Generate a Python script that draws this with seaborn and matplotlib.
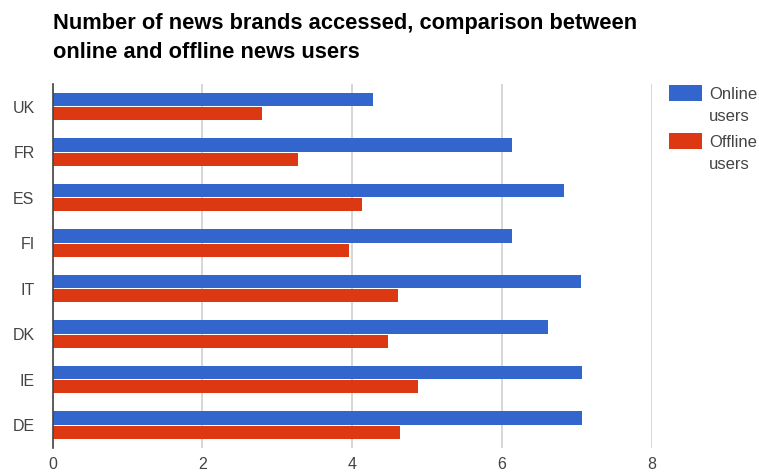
import matplotlib
matplotlib.use("Agg")
import matplotlib.pyplot as plt
from matplotlib.patches import Rectangle
import seaborn as sns
import pandas as pd

countries = ["UK", "FR", "ES", "FI", "IT", "DK", "IE", "DE"]
online_users = [4.28, 6.13, 6.83, 6.13, 7.05, 6.61, 7.07, 7.07]
offline_users = [2.80, 3.28, 4.13, 3.96, 4.61, 4.48, 4.88, 4.64]
series_names = ["Online\nusers", "Offline\nusers"]
series_colors = ["#3366CC", "#DC3912"]
x_ticks = [0, 2, 4, 6, 8]
title_lines = ["Number of news brands accessed, comparison between",
               "online and offline news users"]

df = pd.DataFrame({
    "country": countries * 2,
    "value": online_users + offline_users,
    "series": [series_names[0]] * len(countries) + [series_names[1]] * len(countries),
})

sns.set_style("white")
plt.rcParams["font.family"] = ["Liberation Sans", "DejaVu Sans"]

W, H = 759, 474
fig = plt.figure(figsize=(W / 100, H / 100), dpi=100)
ax = fig.add_axes([0.0694, 0.0549, 0.7893, 0.768])

palette = dict(zip(series_names, series_colors))
sns.barplot(data=df, y="country", x="value", hue="series", orient="h",
            order=countries, hue_order=series_names, palette=palette,
            width=0.62, gap=0.05, saturation=1, ax=ax, legend=False,
            edgecolor="none")

ax.set_xlim(0, 8)
ax.set_ylim(len(countries) - 0.5, -0.5)
ax.set_xticks(x_ticks)
ax.set_xticklabels([str(t) for t in x_ticks])
ax.grid(axis="x", color="#cccccc", linewidth=1.1)
ax.set_axisbelow(True)
for s in ["top", "right", "bottom"]:
    ax.spines[s].set_visible(False)
ax.spines["left"].set_color("#444444")
ax.spines["left"].set_linewidth(1.2)
ax.set_xlabel("")
ax.set_ylabel("")
ax.tick_params(axis="both", length=0, labelsize=11.5, colors="#444444")
ax.tick_params(axis="x", pad=6.5)
ax.tick_params(axis="y", pad=13)

# legend: swatch aligned with the first line of each wrapped label
for i, (name, color) in enumerate(zip(series_names, series_colors)):
    top = 84.7 + i * 48
    fig.patches.append(Rectangle((669 / W, 1 - (top + 16) / H), 33 / W, 16 / H,
                                 transform=fig.transFigure, facecolor=color,
                                 edgecolor="none"))
    for j, line in enumerate(name.split("\n")):
        fig.text(709 / W, 1 - (top + 14.6 + j * 21.4) / H, line, ha="left",
                 va="baseline", fontsize=12, color="#444444")

for j, line in enumerate(title_lines):
    fig.text(53 / W, 1 - (29 + j * 28.7) / H, line, ha="left", va="baseline",
             fontsize=15.75, fontweight="bold", color="#000000")

fig.savefig("out.png", dpi=100)
